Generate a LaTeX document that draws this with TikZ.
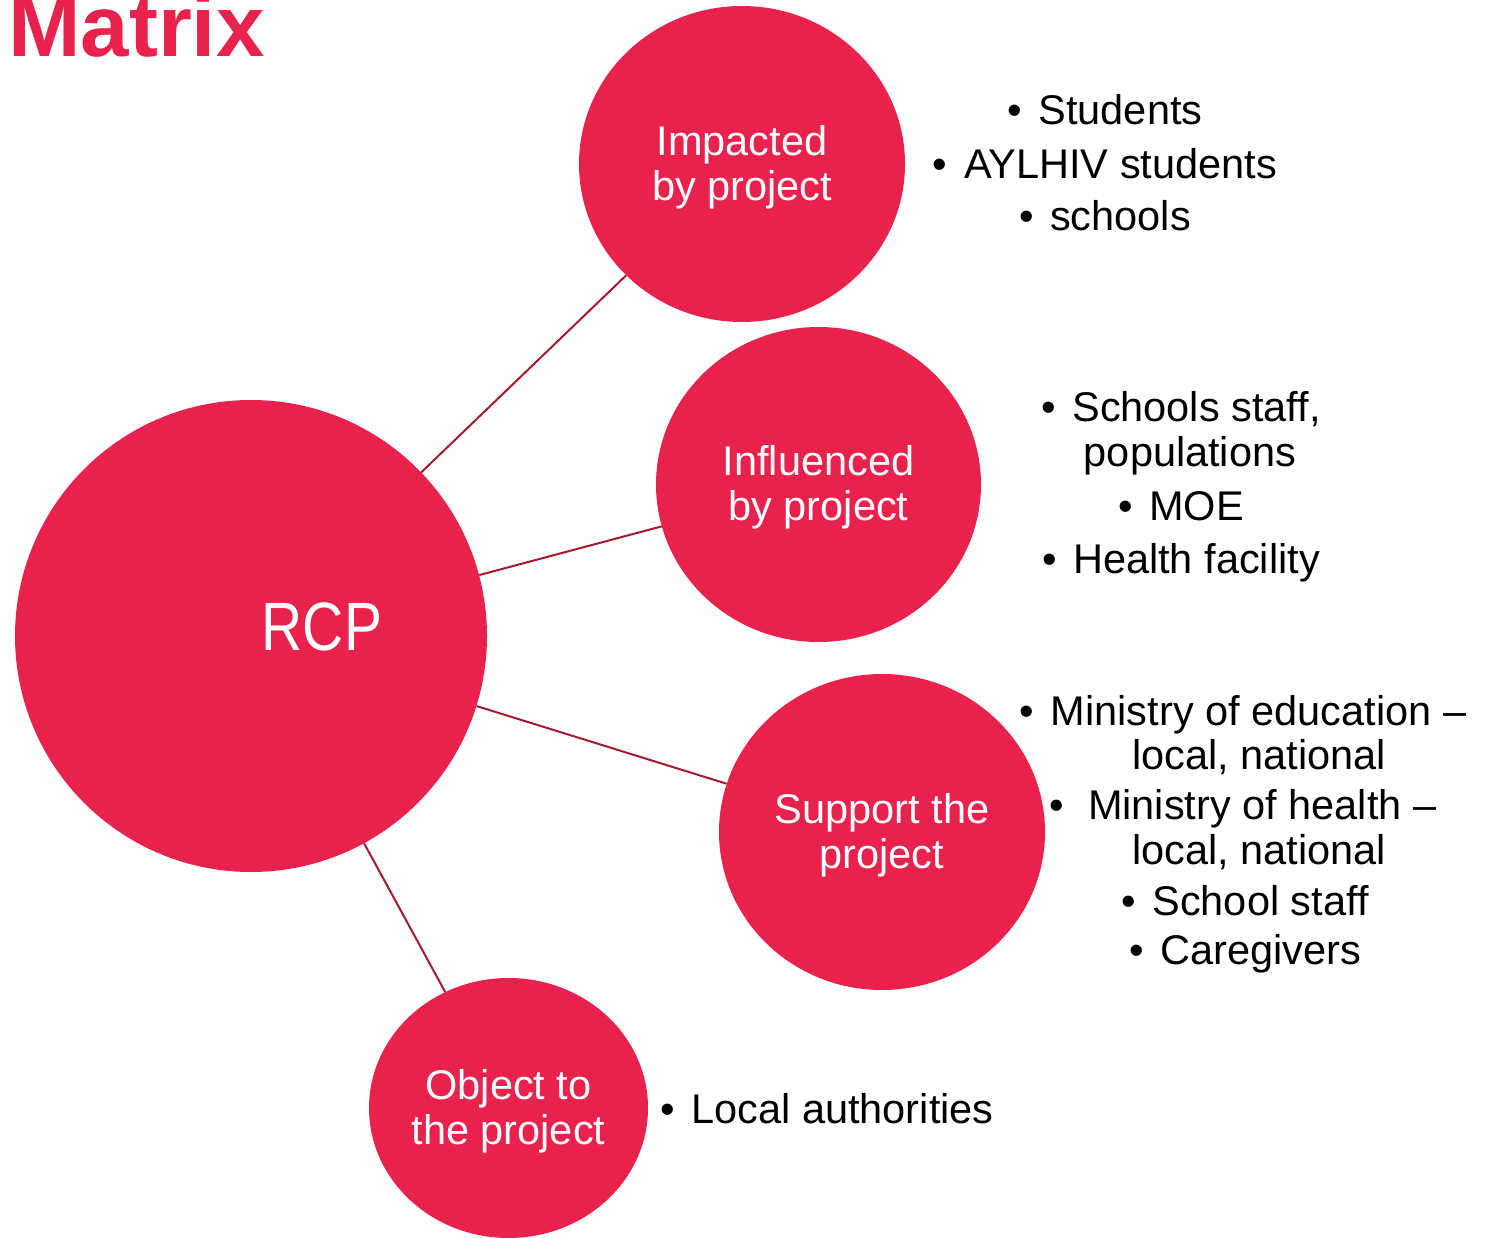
\documentclass[tikz,border=0pt]{standalone}
\usepackage{fontspec}
\usepackage{graphicx}
\setmainfont{Liberation Sans}
\usetikzlibrary{shapes.geometric}
\definecolor{crim}{RGB}{232,33,77}
\definecolor{linkred}{RGB}{166,25,46}
\newcommand\lbul{•\hspace{0.4em}}
\newcommand\topstrut{\rule{0pt}{36pt}}
\begin{document}
\begin{tikzpicture}[x=1pt,y=1pt,
  bubble/.style={ellipse, fill=crim, draw=none, inner sep=0pt, text=white, align=center, font=\fontsize{41.5}{45}\selectfont},
  listline/.style={anchor=base, inner sep=0pt, font=\fontsize{41.5}{44}\selectfont, text=black},
  link/.style={draw=linkred, line width=2pt}]
\clip (0,0) rectangle (1491,-1238);
\fill[white] (0,0) rectangle (1491,-1238);

% title
\node[anchor=base west, inner sep=0pt, text=crim, font=\fontsize{87}{87}\selectfont\bfseries] (title) at (8,-57) {Matrix};

% bubbles
\node[bubble, minimum width=472, minimum height=472] (rcp) at (251,-636) {};
\node[anchor=base, inner sep=0pt, text=white, font=\fontsize{57}{57}\selectfont] (rcptext) at (322,-650) {\scalebox{1}[1.2]{RCP}};
\node[bubble, minimum width=326, minimum height=316] (imp) at (742,-164) {\topstrut Impacted\\by project};
\node[bubble, minimum width=325, minimum height=315] (inf) at (818.5,-484.5) {\topstrut Influenced\\by project};
\node[bubble, minimum width=326, minimum height=316] (sup) at (882,-832) {\topstrut Support the\\project};
\node[bubble, minimum width=279, minimum height=260] (obj) at (508.5,-1108) {\topstrut Object to\\the project};

% connectors
\draw[link] (rcp) -- (imp);
\draw[link] (rcp) -- (inf);
\draw[link] (rcp) -- (sup);
\draw[link] (rcp) -- (obj);

% impacted list
\node[listline] (ia) at (1105,-125) {\lbul Students};
\node[listline] (ib) at (1105,-179) {\lbul AYLHIV students};
\node[listline] (ic) at (1105,-231) {\lbul schools};

% influenced list
\node[listline] (fa) at (1181,-421) {\lbul Schools staff,};
\node[listline] (fb) at (1190,-466) {populations};
\node[listline] (fc) at (1181,-520) {\lbul MOE};
\node[listline] (fd) at (1181,-573) {\lbul Health facility};

% support list
\node[listline] (sa) at (1243,-725) {\lbul Ministry of education –};
\node[listline] (sb) at (1259,-769) {local, national};
\node[listline] (sc) at (1243,-819) {•\hspace{24pt}Ministry of health –};
\node[listline] (sd) at (1259,-864) {local, national};
\node[listline] (se) at (1245,-915) {\lbul School staff};
\node[listline] (sf) at (1245,-964) {\lbul Caregivers};

% object list
\node[listline] (oa) at (827,-1123) {\lbul Local authorities};
\end{tikzpicture}
\end{document}
